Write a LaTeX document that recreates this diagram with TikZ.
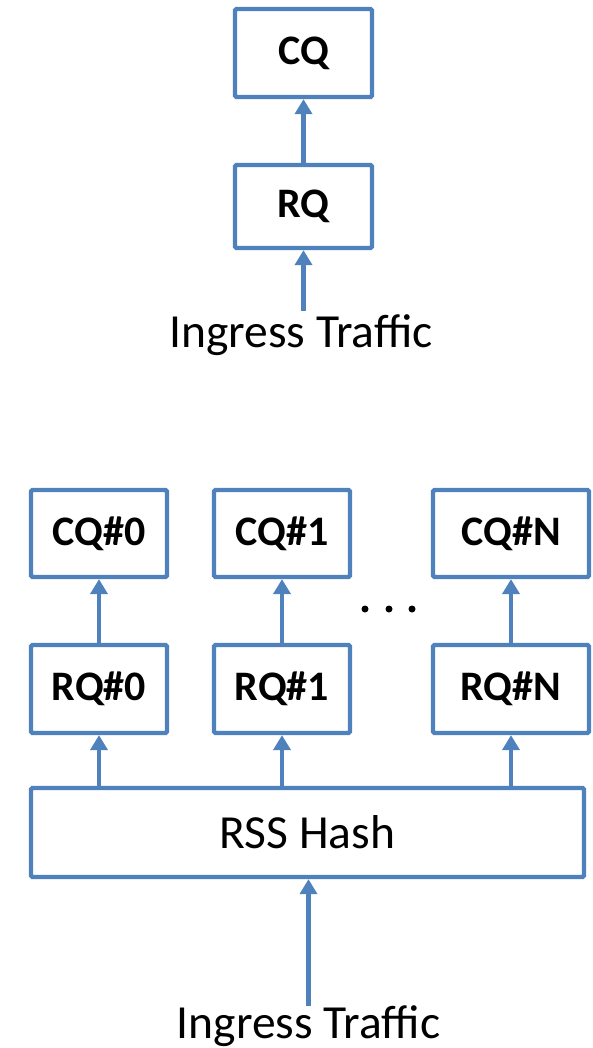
\documentclass[tikz,border=0pt]{standalone}
\usepackage{fontspec}
\setmainfont{Carlito}
\usetikzlibrary{arrows.meta}
\definecolor{qblue}{HTML}{4F81BD}
\tikzset{
  qbox/.style={draw=qblue, line width=4.3pt, rounded corners=1.5pt, inner sep=0pt,
    font=\fontsize{42}{46}\selectfont\bfseries, text=black},
  wbox/.style={draw=qblue, line width=4.3pt, rounded corners=1.5pt, inner sep=0pt,
    font=\fontsize{47.5}{52}\selectfont, text=black},
  lbl/.style={inner sep=0pt, font=\fontsize{47.5}{52}\selectfont, text=black, anchor=base},
  flow/.style={draw=qblue, line width=4.3pt, -{Triangle[width=17pt,length=15pt]}},
  dotmark/.style={circle, fill=black, inner sep=0pt, minimum size=7pt}
}
\begin{document}
\begin{tikzpicture}[x=1pt,y=-1pt]
\useasboundingbox[fill=white] (0,0) rectangle (593,1048);
% top: single queue
\node[qbox, minimum width=137pt, minimum height=88pt] (cq) at (303.5,53) {CQ};
\node[qbox, minimum width=137pt, minimum height=83pt] (rq) at (303.5,206.5) {RQ};
\node[lbl] (in1) at (301,347) {Ingress Traffic};
\draw[flow] (rq.north) -- (cq.south);
\draw[flow] ([yshift=3pt]in1.north -| rq.south) -- (rq.south);
% bottom: multi queue
\node[qbox, minimum width=136pt, minimum height=87pt] (cq0) at (99,533.5) {CQ\#0};
\node[qbox, minimum width=136pt, minimum height=87pt] (cq1) at (282,533.5) {CQ\#1};
\node[qbox, minimum width=156pt, minimum height=87pt] (cqn) at (511,533.5) {CQ\#N};
\node[qbox, minimum width=136pt, minimum height=88pt] (rq0) at (99,689) {RQ\#0};
\node[qbox, minimum width=136pt, minimum height=88pt] (rq1) at (282,689) {RQ\#1};
\node[qbox, minimum width=156pt, minimum height=88pt] (rqn) at (511,689) {RQ\#N};
\node[dotmark] (d1) at (365,609) {};
\node[dotmark] (d2) at (389,609) {};
\node[dotmark] (d3) at (412,609) {};
\node[wbox, minimum width=553pt, minimum height=89pt] (rss) at (307.5,832.5) {RSS Hash};
\node[lbl] (in2) at (308.5,1038) {Ingress Traffic};
\draw[flow] (rq0.north) -- (cq0.south);
\draw[flow] (rq1.north) -- (cq1.south);
\draw[flow] (rqn.north) -- (cqn.south);
\draw[flow] (rss.north -| rq0.south) -- (rq0.south);
\draw[flow] (rss.north -| rq1.south) -- (rq1.south);
\draw[flow] (rss.north -| rqn.south) -- (rqn.south);
\draw[flow] ([yshift=-1pt]in2.north) -- (rss.south -| in2.north);
\end{tikzpicture}
\end{document}
